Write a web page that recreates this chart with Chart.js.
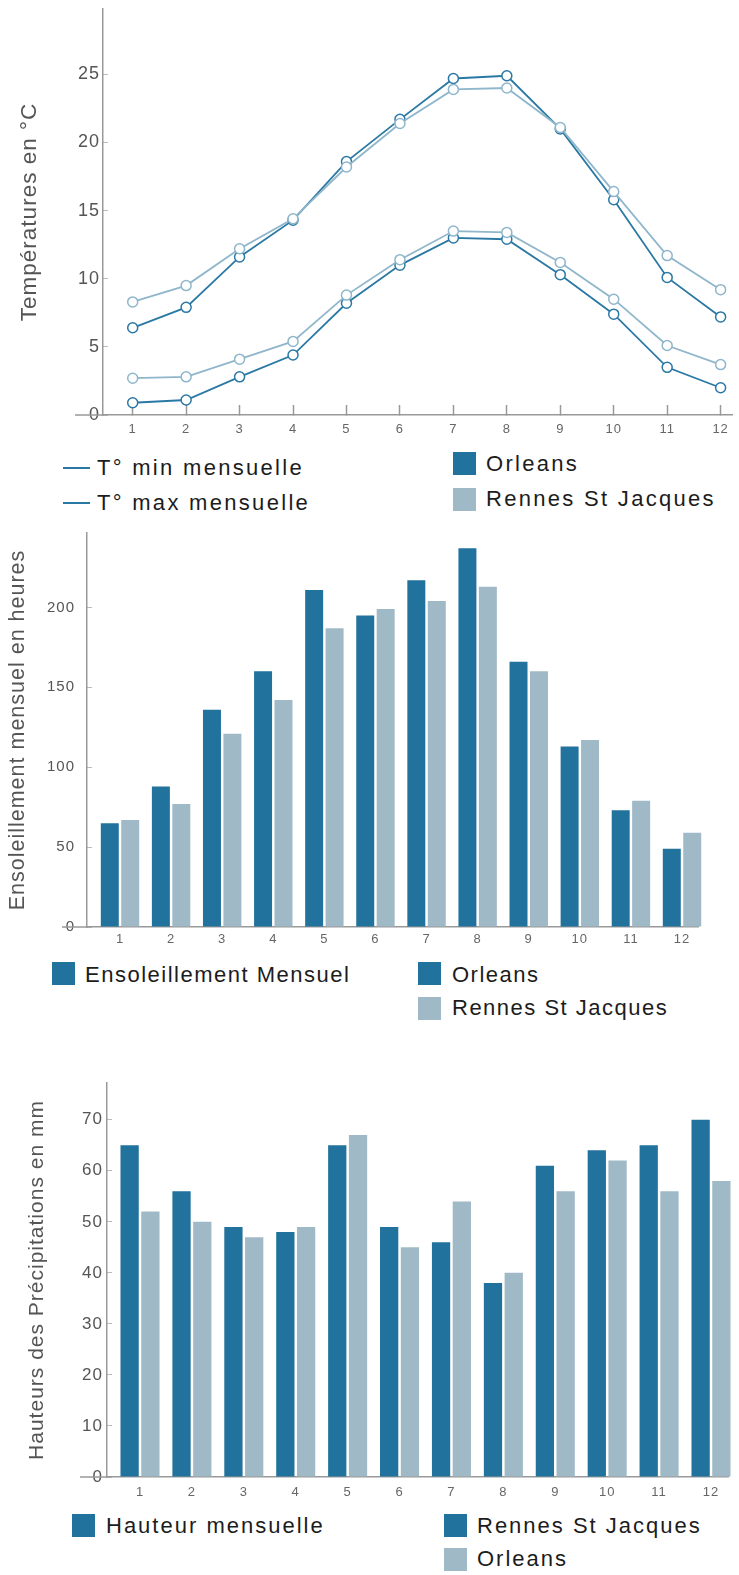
<!DOCTYPE html>
<html>
<head>
<meta charset="utf-8">
<script src="https://cdn.jsdelivr.net/npm/chart.js@4.4.1/dist/chart.umd.min.js"></script>
<style>
body { margin: 0; background: #fff; }
#page { position: relative; width: 739px; height: 1575px; font-family: "Liberation Sans", Arial, sans-serif; }
#page canvas { position: absolute; left: 0; }
.lg { position: absolute; font-size: 22px; letter-spacing: 2px; color: #1c1c1c; line-height: 24px; white-space: nowrap; }
.l1 { letter-spacing: 2.3px; }
.l2 { letter-spacing: 1.5px; }
.sw { position: absolute; width: 23px; height: 23px; }
.ln { position: absolute; width: 27px; height: 2px; }
</style>
</head>
<body>
<div id="page">
  <canvas id="tempChart" width="739" height="445" style="top:0px"></canvas>
  <canvas id="sunChart" width="739" height="430" style="top:520px"></canvas>
  <canvas id="rainChart" width="739" height="445" style="top:1060px"></canvas>

  <!-- legende temperatures -->
  <div class="ln" style="left:63px;top:467px;background:#2a78a4"></div>
  <div class="lg l1" style="left:97px;top:456px">T° min mensuelle</div>
  <div class="ln" style="left:63px;top:502px;background:#2a78a4"></div>
  <div class="lg l1" style="left:97px;top:491px">T° max mensuelle</div>
  <div class="sw" style="left:453px;top:452px;background:#21729c"></div>
  <div class="lg l1" style="left:486px;top:452px">Orleans</div>
  <div class="sw" style="left:453px;top:488px;background:#a0b9c6"></div>
  <div class="lg l1" style="left:486px;top:487px">Rennes St Jacques</div>

  <!-- legende ensoleillement -->
  <div class="sw" style="left:52px;top:962px;background:#21729c"></div>
  <div class="lg l2" style="left:85px;top:963px">Ensoleillement Mensuel</div>
  <div class="sw" style="left:418px;top:962px;background:#21729c"></div>
  <div class="lg l2" style="left:452px;top:963px">Orleans</div>
  <div class="sw" style="left:418px;top:997px;background:#a0b9c6"></div>
  <div class="lg l2" style="left:452px;top:996px">Rennes St Jacques</div>

  <!-- legende precipitations -->
  <div class="sw" style="left:72px;top:1514px;background:#21729c"></div>
  <div class="lg" style="left:106px;top:1514px">Hauteur mensuelle</div>
  <div class="sw" style="left:444px;top:1514px;background:#21729c"></div>
  <div class="lg" style="left:477px;top:1514px">Rennes St Jacques</div>
  <div class="sw" style="left:444px;top:1548px;background:#a0b9c6"></div>
  <div class="lg" style="left:477px;top:1547px">Orleans</div>
</div>

<script>
// Données climatiques Orleans / Rennes St Jacques

const months = [1, 2, 3, 4, 5, 6, 7, 8, 9, 10, 11, 12];

const orleansTmax = [6.4, 7.9, 11.6, 14.3, 18.6, 21.7, 24.7, 24.9, 21.0, 15.8, 10.1, 7.2];
const rennesTmax = [8.3, 9.5, 12.2, 14.4, 18.2, 21.4, 23.9, 24.0, 21.1, 16.4, 11.7, 9.2];
const orleansTmin = [0.9, 1.1, 2.8, 4.4, 8.2, 11.0, 13.0, 12.9, 10.3, 7.4, 3.5, 2.0];
const rennesTmin = [2.7, 2.8, 4.1, 5.4, 8.8, 11.4, 13.5, 13.4, 11.2, 8.5, 5.1, 3.7];

const sunOrleans = [65, 88, 136, 160, 211, 195, 217, 237, 166, 113, 73, 49];
const sunRennes = [67, 77, 121, 142, 187, 199, 204, 213, 160, 117, 79, 59];

const rainRennes = [65, 56, 49, 48, 65, 49, 46, 38, 61, 64, 65, 70];
const rainOrleans = [52, 50, 47, 49, 67, 45, 54, 40, 56, 62, 56, 58];

const tempTicks = [0, 5, 10, 15, 20, 25];
const sunTicks = [0, 50, 100, 150, 200];
const rainTicks = [0, 10, 20, 30, 40, 50, 60, 70];

const DARK = '#21729c';
const LIGHT = '#a0b9c6';
const DARK_LINE = '#2a78a4';
const LIGHT_LINE = '#8fb6cb';
const AXIS = '#999';

Chart.defaults.font.family = '"Liberation Sans", Arial, sans-serif';
Chart.defaults.animation = false;

function pts(vals) {
    return months.map((m, i) => ({ x: m, y: vals[i] }));
}

// prolonge l'axe x a gauche de l'axe y, comme sur l'original
const stubPlugin = {
    id: 'stub',
    afterDraw(chart, args, opts) {
        const { ctx, chartArea } = chart;
        ctx.save();
        ctx.strokeStyle = AXIS;
        ctx.lineWidth = 1.5;
        ctx.beginPath();
        ctx.moveTo(opts.from, chartArea.bottom);
        ctx.lineTo(chartArea.left, chartArea.bottom);
        ctx.stroke();
        ctx.restore();
    }
};

const spacingPlugin = {
    id: 'spacing',
    beforeDraw(chart) { chart.ctx.letterSpacing = '1px'; }
};

function xScale(min, max, height, pad, ticks) {
    return {
        type: 'linear',
        min: min,
        max: max,
        offset: false,
        afterBuildTicks: s => { s.ticks = months.map(v => ({ value: v })); },
        afterFit: s => {
            s.height = height;
            s.paddingLeft = 0; s.paddingRight = 0; s.paddingTop = 0; s.paddingBottom = 0;
        },
        grid: { offset: false, drawOnChartArea: false, drawTicks: ticks, tickLength: -10, tickColor: AXIS, tickWidth: 1.5 },
        border: { color: AXIS, width: 1.5 },
        ticks: { font: { size: 13 }, color: '#666', padding: pad, maxRotation: 0, autoSkip: false }
    };
}

function yScale(max, tickValues, width, title, titleSize, tickSize, pad, titlePad) {
    return {
        min: 0,
        max: max,
        afterBuildTicks: s => { s.ticks = tickValues.map(v => ({ value: v })); },
        afterFit: s => {
            s.width = width;
            s.paddingLeft = 0; s.paddingRight = 0; s.paddingTop = 0; s.paddingBottom = 0;
        },
        grid: { drawOnChartArea: false, tickLength: -5, tickColor: '#bbb' },
        border: { color: AXIS, width: 1.5 },
        ticks: { font: { size: tickSize }, color: '#555', padding: pad },
        title: {
            display: true,
            text: title,
            color: '#555',
            font: { size: titleSize, lineHeight: 1 },
            padding: { top: titlePad, bottom: 0 }
        }
    };
}

function lineSet(label, vals, color) {
    return {
        label: label,
        data: pts(vals),
        borderColor: color,
        borderWidth: 1.8,
        pointRadius: 5,
        pointBorderWidth: 1.5,
        pointBorderColor: color,
        pointBackgroundColor: '#fff',
        clip: false,
        tension: 0
    };
}

function barSet(label, vals, color) {
    return {
        label: label,
        data: pts(vals),
        backgroundColor: color,
        borderWidth: 0,
        categoryPercentage: 0.8,
        barPercentage: 0.88,
        clip: false
    };
}

// Températures
new Chart(document.getElementById('tempChart'), {
    type: 'line',
    data: {
        datasets: [
            lineSet('Rennes T max', rennesTmax, LIGHT_LINE),
            lineSet('Rennes T min', rennesTmin, LIGHT_LINE),
            lineSet('Orleans T max', orleansTmax, DARK_LINE),
            lineSet('Orleans T min', orleansTmin, DARK_LINE)
        ]
    },
    options: {
        responsive: false,
        layout: { padding: { top: 9, left: 0, right: 0, bottom: 0 } },
        plugins: { legend: { display: false }, tooltip: { enabled: false }, stub: { from: 75 } },
        scales: {
            x: xScale(0.4444, 12.2222, 30, 16.5, true),
            y: yScale(29.8, tempTicks, 103, 'Températures en °C', 22.5, 18, 8, 19)
        }
    },
    plugins: [stubPlugin, spacingPlugin]
});

// Ensoleillement
new Chart(document.getElementById('sunChart'), {
    type: 'bar',
    data: {
        datasets: [
            barSet('Orleans', sunOrleans, DARK),
            barSet('Rennes St Jacques', sunRennes, LIGHT)
        ]
    },
    options: {
        responsive: false,
        layout: { padding: { top: 13, left: 0, right: 41, bottom: 0 } },
        plugins: { legend: { display: false }, tooltip: { enabled: false }, stub: { from: 62 } },
        scales: {
            x: xScale(0.354, 12.313, 23, 4.5, false),
            y: yScale(246.6, sunTicks, 87, 'Ensoleillement mensuel en heures', 21.5, 15, 17, 7)
        }
    },
    plugins: [stubPlugin, spacingPlugin]
});

// Précipitations
new Chart(document.getElementById('rainChart'), {
    type: 'bar',
    data: {
        datasets: [
            barSet('Rennes St Jacques', rainRennes, DARK),
            barSet('Orleans', rainOrleans, LIGHT)
        ]
    },
    options: {
        responsive: false,
        layout: { padding: { top: 23, left: 0, right: 11, bottom: 0 } },
        plugins: { legend: { display: false }, tooltip: { enabled: false }, stub: { from: 80 } },
        scales: {
            x: xScale(0.3643, 12.3275, 28, 7.5, false),
            y: yScale(77.2, rainTicks, 107, 'Hauteurs des Précipitations en mm', 21, 17, 9, 26.5)
        }
    },
    plugins: [stubPlugin, spacingPlugin]
});
</script>
</body>
</html>
